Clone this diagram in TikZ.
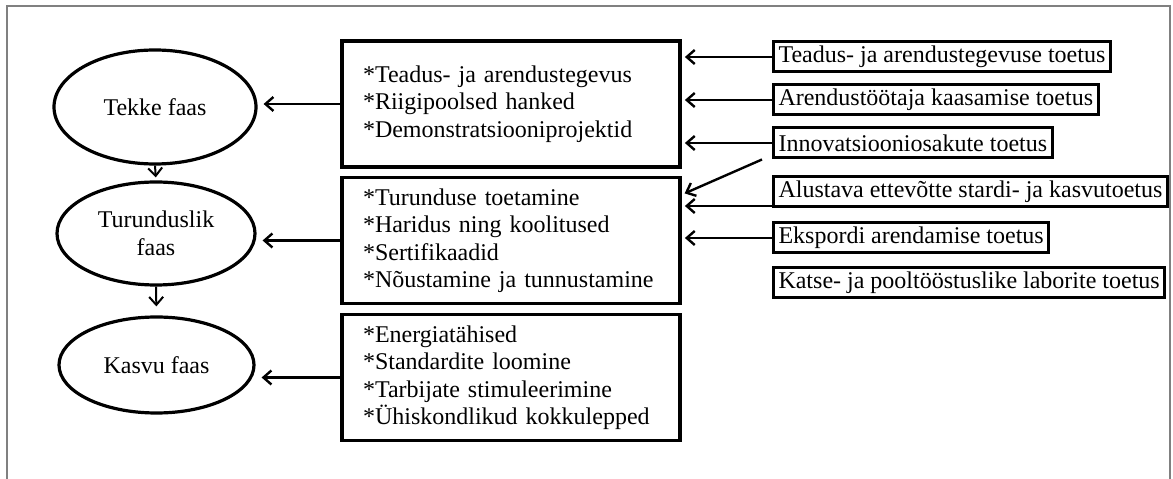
\documentclass[tikz,border=0pt]{standalone}
\usepackage{fontspec}
\setmainfont{Liberation Serif}
\usetikzlibrary{arrows.meta,positioning,calc,shapes.geometric}

\begin{document}
\begin{tikzpicture}[x=1pt,y=1pt,font=\fontsize{24}{27.5}\selectfont,>={Straight Barb[length=8pt,width=14pt]}]
\tikzstyle{phase}=[draw,ellipse,line width=3.2pt,inner sep=0pt,align=center]
\tikzstyle{measures}=[draw,line width=3.8pt,align=left,text width=296pt,inner xsep=21pt,inner ysep=0pt,minimum height=126pt]
\tikzstyle{grant}=[draw,line width=3pt,anchor=west,inner xsep=5pt,inner ysep=0pt,minimum height=30pt]
\tikzstyle{link}=[->,line width=2.4pt]
\useasboundingbox (0,0) rectangle (1173,479);
\draw[gray,line width=1.4pt] (7,0) -- (7,473) -- (1170,473) -- (1170,0);
% faasid
\node[phase,minimum width=202pt,minimum height=114pt] (tekke) at (155,372) {Tekke faas};
\node[phase,minimum width=198pt,minimum height=103pt] (turundus) at (156,245.5) {Turunduslik\\faas};
\node[phase,minimum width=195pt,minimum height=96pt] (kasvu) at (156.5,114) {Kasvu faas};
% meetmed
\node[measures] (meede1) at (511,375) {*Teadus- ja arendustegevus\\{}*Riigipoolsed hanked\\{}*Demonstratsiooniprojektid};
\node[measures] (meede2) at (511,238.5) {*Turunduse toetamine\\{}*Haridus ning koolitused\\{}*Sertifikaadid\\{}*Nõustamine ja tunnustamine};
\node[measures] (meede3) at (511,101.5) {*Energiatähised\\{}*Standardite loomine\\{}*Tarbijate stimuleerimine\\{}*Ühiskondlikud kokkulepped};
% toetused
\node[grant] (toetus1) at (772,422) {Teadus- ja arendustegevuse toetus};
\node[grant] (toetus2) at (772,379) {Arendustöötaja kaasamise toetus};
\node[grant] (toetus3) at (772,336) {Innovatsiooniosakute toetus};
\node[grant] (toetus4) at (772,287.5) {Alustava ettevõtte stardi- ja kasvutoetus};
\node[grant] (toetus5) at (772,241) {Ekspordi arendamise toetus};
\node[grant] (toetus6) at (772,196.5) {Katse- ja pooltööstuslike laborite toetus};

\draw[link,line width=2pt,shorten >=3pt] (tekke.south) -- (turundus.north);
\draw[link,line width=2pt,shorten >=9pt] (turundus.south) -- (kasvu.north);
\draw[link,shorten >=6pt] (meede1.west) -- (meede1.west -| tekke.east);
\draw[link,shorten >=6pt] (meede2.west) -- (meede2.west -| turundus.east);
\draw[link,shorten >=6pt] (meede3.west) -- (meede3.west -| kasvu.east);
\draw[link,shorten >=3pt] (toetus1.west) -- (toetus1.west -| meede1.east);
\draw[link,shorten >=3pt] (toetus2.west) -- (toetus2.west -| meede1.east);
\draw[link,shorten >=3pt] (toetus3.west) -- (toetus3.west -| meede1.east);
\draw[link,shorten >=3pt] ([xshift=-10pt]toetus3.south west) -- ([yshift=-19pt]meede2.north east);
\draw[link,shorten >=3pt] ([yshift=2pt]toetus4.south west) -- ([yshift=2pt]toetus4.south west -| meede2.east);
\draw[link,shorten >=3pt] (toetus5.west) -- (toetus5.west -| meede2.east);
\end{tikzpicture}
\end{document}
